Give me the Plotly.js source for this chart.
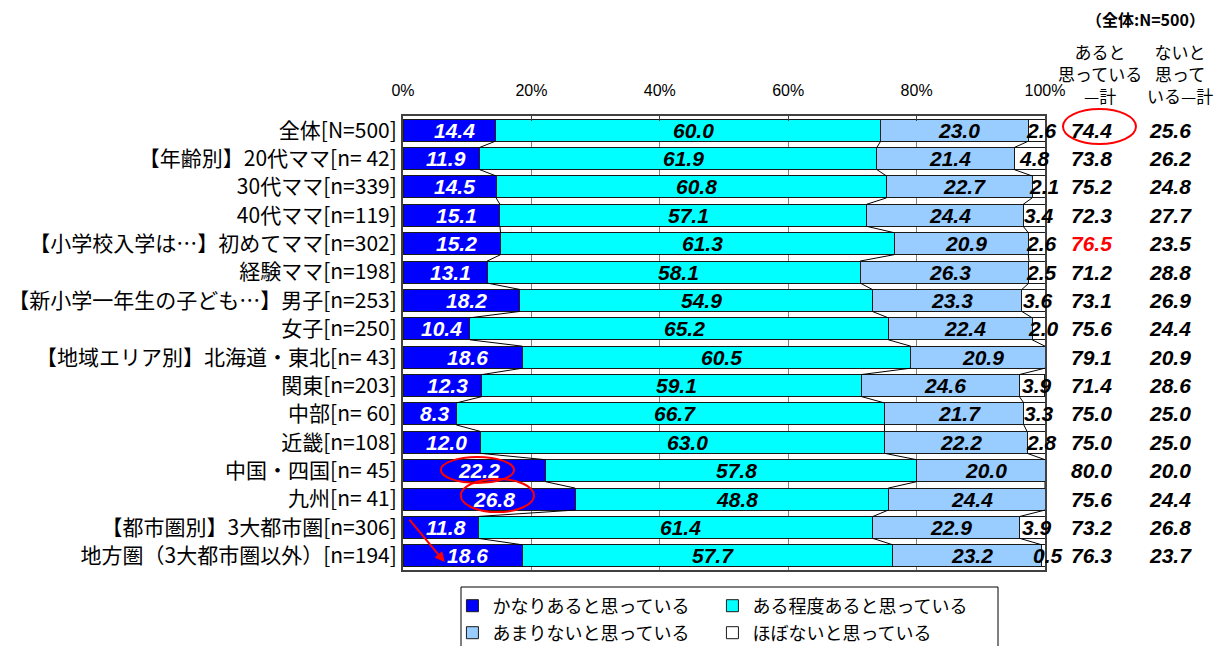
<!DOCTYPE html>
<html>
<head>
<meta charset="utf-8">
<script src="https://cdn.plot.ly/plotly-3.0.1.min.js"></script>
<style>
  html, body { margin: 0; padding: 0; background: #ffffff; }
  #chart { width: 1224px; height: 646px; }
</style>
</head>
<body>
<div id="chart"></div>
<script>
// Row labels (top to bottom)
const categories = [
  '全体[N=500]',
  '【年齢別】20代ママ[n= 42]',
  '30代ママ[n=339]',
  '40代ママ[n=119]',
  '【小学校入学は…】初めてママ[n=302]',
  '経験ママ[n=198]',
  '【新小学一年生の子ども…】男子[n=253]',
  '女子[n=250]',
  '【地域エリア別】北海道・東北[n= 43]',
  '関東[n=203]',
  '中部[n= 60]',
  '近畿[n=108]',
  '中国・四国[n= 45]',
  '九州[n= 41]',
  '【都市圏別】3大都市圏[n=306]',
  '地方圏（3大都市圏以外）[n=194]'
];

// Answer shares (%)
const veryMuch = [14.4, 11.9, 14.5, 15.1, 15.2, 13.1, 18.2, 10.4, 18.6, 12.3, 8.3, 12.0, 22.2, 26.8, 11.8, 18.6];
const somewhat = [60.0, 61.9, 60.8, 57.1, 61.3, 58.1, 54.9, 65.2, 60.5, 59.1, 66.7, 63.0, 57.8, 48.8, 61.4, 57.7];
const notMuch  = [23.0, 21.4, 22.7, 24.4, 20.9, 26.3, 23.3, 22.4, 20.9, 24.6, 21.7, 22.2, 20.0, 24.4, 22.9, 23.2];
const hardly   = [2.6, 4.8, 2.1, 3.4, 2.6, 2.5, 3.6, 2.0, 0, 3.9, 3.3, 2.8, 0, 0, 3.9, 0.5];

// Net columns (%)
const thinkTotal    = [74.4, 73.8, 75.2, 72.3, 76.5, 71.2, 73.1, 75.6, 79.1, 71.4, 75.0, 75.0, 80.0, 75.6, 73.2, 76.3];
const notThinkTotal = [25.6, 26.2, 24.8, 27.7, 23.5, 28.8, 26.9, 24.4, 20.9, 28.6, 25.0, 25.0, 20.0, 24.4, 26.8, 23.7];

const seriesNames = ['かなりあると思っている', 'ある程度あると思っている', 'あまりないと思っている', 'ほぼないと思っている'];
const tickVals = [0, 20, 40, 60, 80, 100];
const tickLabels = ['0%', '20%', '40%', '60%', '80%', '100%'];
const headerThink = ['あると', '思っている', '—計'];
const headerNotThink = ['ないと', '思って', 'いる—計'];
const baseNote = '（全体:N=500）';

// ---- styling ----
const series = [veryMuch, somewhat, notMuch, hardly];
const colors = ['#0000FF', '#00FFFF', '#99CCFF', '#FFFFFF'];
const labelColors = ['#FFFFFF', '#000000', '#000000', '#000000'];
const legendOf = ['legend', 'legend', 'legend2', 'legend2'];
const numFont = 'Arial, "Liberation Sans", sans-serif';
const jpFont = '"Noto Sans CJK JP", sans-serif';
const BARGAP = 0.225;
const HALF = (1 - BARGAP) / 2;
const highlightRow = 4;

const traces = series.map((vals, k) => ({
  type: 'bar',
  orientation: 'h',
  name: seriesNames[k],
  y: categories,
  x: vals,
  marker: { color: colors[k], line: { color: '#1a1a1a', width: 1 } },
  legend: legendOf[k],
  hoverinfo: 'skip'
}));

// cumulative boundaries per row
const cum = [];
let running = categories.map(() => 0);
series.forEach((vals) => {
  const start = running.slice();
  running = running.map((r, i) => r + vals[i]);
  cum.push({ start: start, end: running.slice() });
});

const annotations = [];
// segment value labels
series.forEach((vals, k) => {
  vals.forEach((v, i) => {
    if (v <= 0) return;
    annotations.push({
      xref: 'x', yref: 'y', xanchor: 'center', yanchor: 'middle',
      x: cum[k].start[i] + v / 2, y: i,
      text: v.toFixed(1), showarrow: false, xshift: 5,
      font: { family: numFont, size: 21, color: labelColors[k], weight: 'bold', style: 'italic' }
    });
  });
});

// net columns
const colX = [1.073, 1.195];
[thinkTotal, notThinkTotal].forEach((vals, c) => {
  vals.forEach((v, i) => {
    annotations.push({
      xref: 'paper', yref: 'y', x: colX[c], y: i, xanchor: 'center', yanchor: 'middle',
      text: v.toFixed(1), showarrow: false,
      font: { family: numFont, size: 21, weight: 'bold', style: 'italic',
              color: (c === 0 && i === highlightRow) ? '#FF0000' : '#000000' }
    });
  });
});

// column headers
const pxToPaperY = (py) => (570 - py) / 454;
annotations.push({
  xref: 'paper', yref: 'paper', x: 1.0855, y: pxToPaperY(74), xanchor: 'center', yanchor: 'middle',
  text: headerThink.join('<br>'), showarrow: false, font: { family: jpFont, size: 17, color: '#000' }
});
annotations.push({
  xref: 'paper', yref: 'paper', x: 1.211, y: pxToPaperY(74), xanchor: 'center', yanchor: 'middle',
  text: headerNotThink.join('<br>'), showarrow: false, font: { family: jpFont, size: 17, color: '#000' }
});
annotations.push({
  xref: 'paper', yref: 'paper', x: 1.156, y: pxToPaperY(19), xanchor: 'center', yanchor: 'middle',
  text: baseNote, showarrow: false, font: { family: jpFont, size: 16, color: '#000', weight: 'bold' }
});

// red pointer arrow
annotations.push({
  xref: 'x', yref: 'y', axref: 'x', ayref: 'y',
  x: 6.5, y: 15.22, ax: 0.8, ay: 13.67, text: '',
  showarrow: true, arrowhead: 2, arrowsize: 1, arrowwidth: 2, arrowcolor: '#FF0000', standoff: 0
});

const shapes = [];
// series lines joining segment boundaries between adjacent bars
for (let k = 0; k < 3; k++) {
  for (let i = 0; i < categories.length - 1; i++) {
    shapes.push({
      type: 'line', xref: 'x', yref: 'y', layer: 'above',
      x0: cum[k].end[i], y0: i + HALF,
      x1: cum[k].end[i + 1], y1: i + 1 - HALF,
      line: { color: '#000000', width: 1 }
    });
  }
}
// red highlight ellipses
shapes.push({ type: 'circle', xref: 'paper', yref: 'paper', x0: 1.028, x1: 1.1417,
  y0: pxToPaperY(144), y1: pxToPaperY(109), line: { color: '#FF0000', width: 2 } });
shapes.push({ type: 'circle', xref: 'x', yref: 'y', x0: 5.9, x1: 17.3, y0: 11.52, y1: 12.43,
  line: { color: '#FF0000', width: 2 } });
shapes.push({ type: 'circle', xref: 'x', yref: 'y', x0: 9.0, x1: 20.4, y0: 12.29, y1: 13.46,
  line: { color: '#FF0000', width: 2 } });
// legend frame
shapes.push({ type: 'rect', xref: 'paper', yref: 'paper',
  x0: (461 - 403) / 642, x1: (998 - 403) / 642, y0: pxToPaperY(660), y1: pxToPaperY(587),
  line: { color: '#000000', width: 1 }, fillcolor: 'rgba(0,0,0,0)' });

const legendBase = {
  orientation: 'h', xanchor: 'left', yanchor: 'middle', x: 0.077,
  entrywidth: 215, entrywidthmode: 'pixels', itemwidth: 30,
  font: { family: jpFont, size: 18, color: '#000' },
  bgcolor: 'rgba(0,0,0,0)', borderwidth: 0, traceorder: 'normal'
};

const layout = {
  width: 1224, height: 646,
  margin: { l: 403, r: 179, t: 116, b: 76, autoexpand: false },
  paper_bgcolor: '#ffffff', plot_bgcolor: '#ffffff',
  barmode: 'stack', bargap: BARGAP,
  showlegend: true,
  legend: Object.assign({}, legendBase, { y: pxToPaperY(606) }),
  legend2: Object.assign({}, legendBase, { y: pxToPaperY(633) }),
  xaxis: {
    side: 'top', range: [0, 100], autorange: false, fixedrange: true,
    tickvals: tickVals, ticktext: tickLabels,
    ticks: 'inside', ticklen: 5, tickcolor: '#404040',
    showgrid: true, gridcolor: '#808080', gridwidth: 1, zeroline: false,
    showline: true, linecolor: '#404040', linewidth: 2, mirror: true,
    tickfont: { family: numFont, size: 16, color: '#000' },
    ticklabelstandoff: 12
  },
  yaxis: {
    type: 'category', range: [categories.length - 0.5, -0.5], autorange: false, fixedrange: true,
    showgrid: false, zeroline: false, ticks: '',
    showline: true, linecolor: '#404040', linewidth: 2, mirror: true,
    tickfont: { family: jpFont, size: 21, color: '#000' },
    ticklabelstandoff: 0
  },
  annotations: annotations,
  shapes: shapes
};

Plotly.newPlot('chart', traces, layout, { displayModeBar: false, staticPlot: true });
</script>
</body>
</html>
